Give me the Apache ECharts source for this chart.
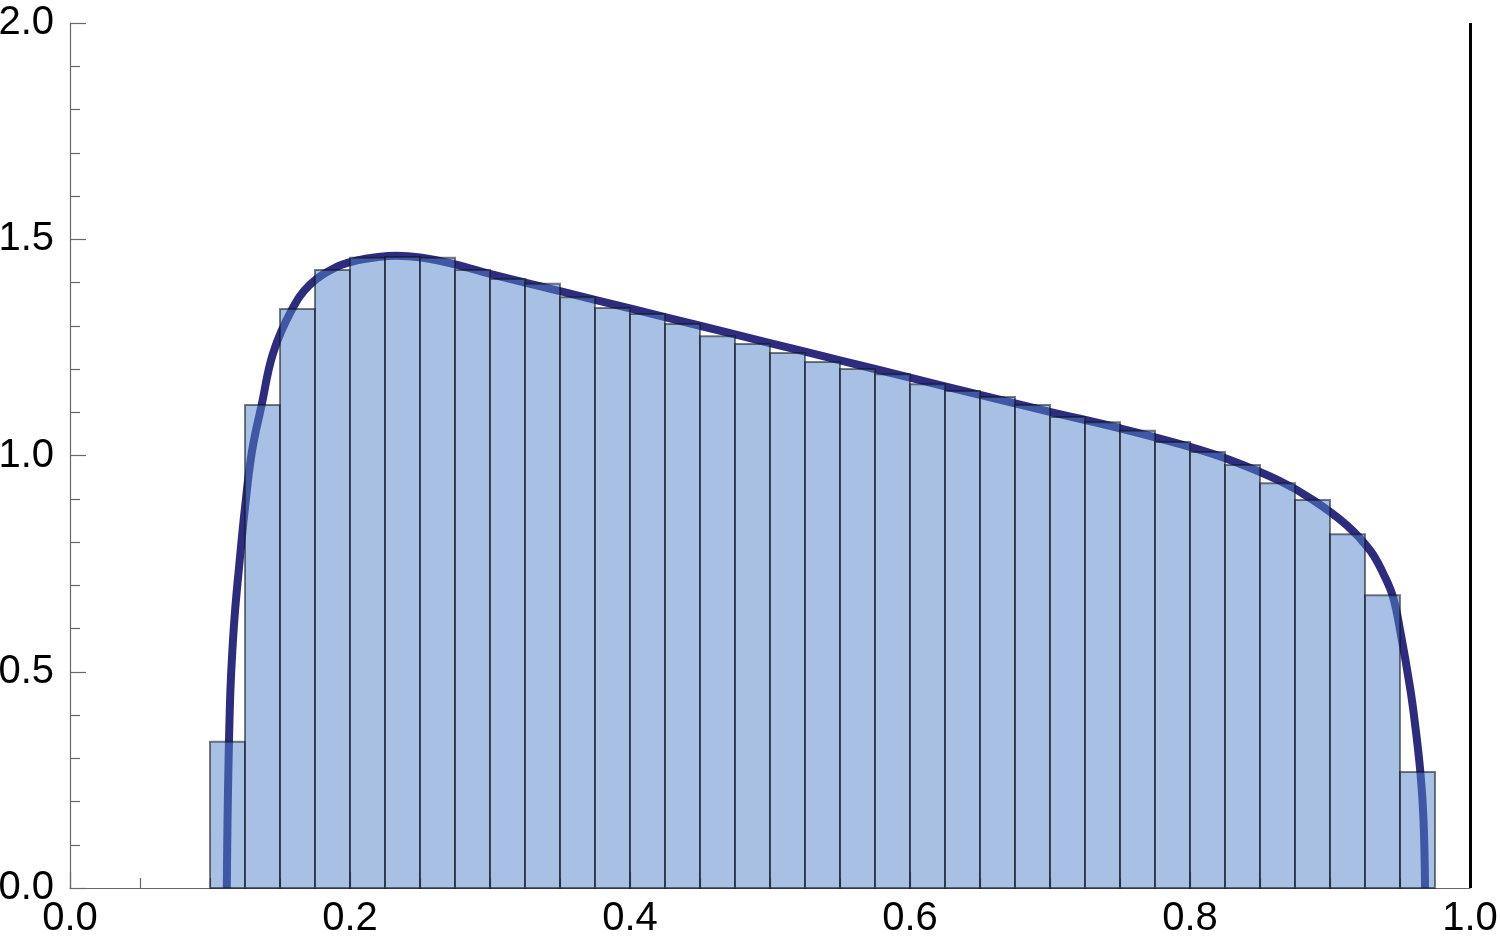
<!DOCTYPE html>
<html>
<head>
<meta charset="utf-8">
<script src="https://cdn.jsdelivr.net/npm/echarts@6/dist/echarts.min.js"></script>
<style>
html,body{margin:0;padding:0;background:#fff;}
#chart{width:1500px;height:948px;}
</style>
</head>
<body>
<div id="chart"></div>
<script>
// Histogram bin edges (35 bins of width 0.025)
const binEdges = [0.1,0.125,0.15,0.175,0.2,0.225,0.25,0.275,0.3,0.325,0.35,0.375,0.4,0.425,0.45,0.475,0.5,0.525,0.55,0.575,0.6,0.625,0.65,0.675,0.7,0.725,0.75,0.775,0.8,0.825,0.85,0.875,0.9,0.925,0.95,0.975];
// Histogram heights (density)
const binHeights = [0.338,1.117,1.339,1.429,1.457,1.459,1.457,1.429,1.408,1.397,1.366,1.341,1.327,1.304,1.276,1.258,1.237,1.216,1.200,1.188,1.165,1.149,1.135,1.117,1.089,1.077,1.057,1.031,1.008,0.978,0.936,0.897,0.818,0.677,0.268];
// Density curve points
const curveX = [0.1120,0.1125,0.1133,0.1145,0.1160,0.1180,0.1210,0.1250,0.1300,0.1369,0.1450,0.1583,0.1714,0.1905,0.2050,0.2200,0.2330,0.2500,0.2750,0.3000,0.3500,0.4000,0.4500,0.5000,0.5500,0.6000,0.6500,0.7000,0.7500,0.8000,0.8300,0.8643,0.8880,0.9120,0.9286,0.9379,0.9450,0.9504,0.9571,0.9604,0.9646,0.9668,0.9679];
const curveY = [0,0.15,0.30,0.45,0.55,0.645,0.750,0.880,1.010,1.117,1.236,1.336,1.395,1.436,1.451,1.459,1.462,1.458,1.442,1.420,1.380,1.340,1.300,1.260,1.220,1.180,1.140,1.101,1.063,1.020,0.988,0.941,0.897,0.839,0.781,0.728,0.673,0.590,0.465,0.388,0.266,0.157,0];
// Axis ticks
const xTicks = [0.0,0.2,0.4,0.6,0.8,1.0];
const yTicks = [0.0,0.5,1.0,1.5,2.0];

const histData = binHeights.map((h,i)=>[binEdges[i], binEdges[i+1], h]);
const curveData = curveX.map((x,i)=>[x, curveY[i]]);

const chart = echarts.init(document.getElementById('chart'), null, {renderer:'canvas'});
const labelFont = {fontFamily:'Liberation Sans, Arial, sans-serif', fontSize:40, color:'#000'};
chart.setOption({
  animation:false,
  backgroundColor:'#fff',
  grid:{left:70, right:30, top:23, bottom:60, containLabel:false, outerBoundsMode:'none'},
  xAxis:{
    type:'value', min:xTicks[0], max:xTicks[xTicks.length-1], interval:0.2,
    axisLine:{show:true, lineStyle:{color:'#666', width:1.2}},
    axisTick:{show:true, inside:true, length:16, lineStyle:{color:'#666', width:1.2}},
    minorTick:{show:true, splitNumber:4, length:10, lineStyle:{color:'#666', width:1.2}},
    splitLine:{show:false},
    axisLabel:Object.assign({margin:11, formatter:v=>v.toFixed(1)}, labelFont)
  },
  yAxis:{
    type:'value', min:yTicks[0], max:yTicks[yTicks.length-1], interval:0.5,
    axisLine:{show:true, lineStyle:{color:'#666', width:1.2}},
    axisTick:{show:true, inside:true, length:16, lineStyle:{color:'#666', width:1.2}},
    minorTick:{show:true, splitNumber:5, length:10, lineStyle:{color:'#666', width:1.2}},
    splitLine:{show:false},
    axisLabel:Object.assign({margin:16, formatter:v=>v.toFixed(1)}, labelFont)
  },
  series:[
    {
      type:'line', data:curveData, z:2, showSymbol:false, symbol:'none',
      smooth:0.4,
      lineStyle:{color:'#2e2c7e', width:8, cap:'butt'},
      markLine:{
        silent:true, symbol:['none','none'], label:{show:false},
        lineStyle:{color:'#000', width:3, type:'solid'},
        data:[{xAxis:1.0}]
      }
    },
    {
      type:'custom', z:3, data:histData,
      encode:{x:[0,1], y:2},
      renderItem:function(params, api){
        const p0 = api.coord([api.value(0), 0]);
        const p1 = api.coord([api.value(1), api.value(2)]);
        return {
          type:'rect',
          shape:{x:p0[0], y:p1[1], width:p1[0]-p0[0], height:p0[1]-p1[1]},
          style:{fill:'rgba(80,130,202,0.5)', stroke:'rgba(15,18,30,0.55)', lineWidth:2}
        };
      }
    }
  ]
});
</script>
</body>
</html>
